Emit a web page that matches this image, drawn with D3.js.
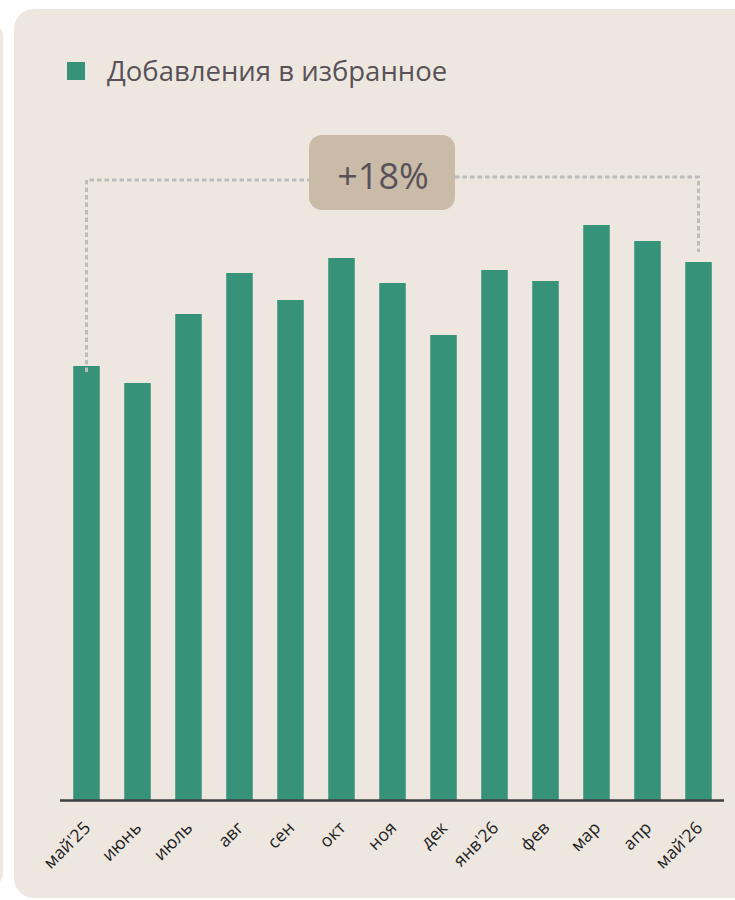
<!doctype html>
<html>
<head>
  <meta charset="utf-8">
  <script src="https://cdnjs.cloudflare.com/ajax/libs/d3/7.8.5/d3.min.js"></script>
  <style>
    body { margin: 0; background: white; }
    text { font-family: 'Open Sans', 'Noto Sans', sans-serif; }
  </style>
</head>
<body>
  <script>
    const months = ["май'25", 'июнь', 'июль', 'авг', 'сен', 'окт', 'ноя', 'дек', "янв'26", 'фев', 'мар', 'апр', "май'26"];
    const favourites = [434, 417, 486, 527, 500, 542, 517, 465, 530, 519, 575, 559, 538];
    const seriesName = 'Добавления в избранное';
    const changeLabel = '+18%';

    const width = 735, height = 900;
    const baseY = 800;

    let svg = d3.select('body').append('svg')
      .attr('width', width)
      .attr('height', height);

    // neighbouring card edge on the left
    svg.append('rect')
      .attr('x', -20).attr('y', 24)
      .attr('width', 23).attr('height', 862)
      .attr('rx', 12)
      .style('fill', '#ede7e0');

    // card
    svg.append('rect')
      .attr('x', 14).attr('y', 9)
      .attr('width', 740).attr('height', 889)
      .attr('rx', 20)
      .style('fill', '#ede7e0');

    let xScale = d3.scaleBand()
      .domain(months)
      .range([61, 724])
      .paddingInner(0.48)
      .paddingOuter(0.24);

    let yScale = d3.scaleLinear()
      .domain([0, 580])
      .range([baseY, baseY - 580]);

    // bars
    svg.selectAll('rect.bar').data(favourites)
      .enter().append('rect')
      .attr('class', 'bar')
      .attr('x', (d, i) => xScale(months[i]))
      .attr('y', d => yScale(d))
      .attr('width', xScale.bandwidth())
      .attr('height', d => baseY - yScale(d))
      .style('fill', '#37927a');

    // axis
    let xAxis = d3.axisBottom(xScale).tickSize(0).tickPadding(0);
    let axisG = svg.append('g')
      .attr('transform', `translate(0,${baseY})`)
      .call(xAxis);
    axisG.select('.domain').remove();
    axisG.selectAll('.tick text')
      .attr('transform', 'translate(5,29) rotate(-45)')
      .attr('dy', 0)
      .attr('y', 0)
      .style('text-anchor', 'end')
      .style('font-size', '17.5px')
      .style('fill', '#222222');
    svg.append('line')
      .attr('x1', 60).attr('x2', 724)
      .attr('y1', baseY + 0.5).attr('y2', baseY + 0.5)
      .style('stroke', '#3f3f3f')
      .style('stroke-width', 2.5);

    // change bracket
    const first = months[0], last = months[months.length - 1];
    const xa = xScale(first) + xScale.bandwidth() / 2;
    const xb = xScale(last) + xScale.bandwidth() / 2;
    const yTopL = 180, yTopR = 177;
    const dash = { stroke: '#bcbcbc', 'stroke-width': 3, 'stroke-dasharray': '4.5,3', fill: 'none' };
    const bracket = [
      [[xa, yScale(favourites[0]) + 6], [xa, yTopL], [309, yTopL]],
      [[455, yTopR], [xb, yTopR], [xb, yScale(favourites[favourites.length - 1]) - 10]]
    ];
    bracket.forEach(pts => {
      let p = svg.append('path').attr('d', d3.line()(pts));
      Object.entries(dash).forEach(([k, v]) => p.style(k, v));
    });

    svg.append('rect')
      .attr('x', 309).attr('y', 135)
      .attr('width', 146).attr('height', 75)
      .attr('rx', 13)
      .style('fill', '#cabba8');
    svg.append('text')
      .attr('x', 383).attr('y', 189)
      .style('text-anchor', 'middle')
      .style('font-size', '36px')
      .style('fill', '#585258')
      .text(changeLabel);

    // legend
    svg.append('rect')
      .attr('x', 67).attr('y', 62)
      .attr('width', 18).attr('height', 18)
      .style('fill', '#37927a');
    svg.append('text')
      .attr('x', 107).attr('y', 81)
      .style('font-size', '27.5px')
      .style('fill', '#585258')
      .text(seriesName);
  </script>
</body>
</html>
